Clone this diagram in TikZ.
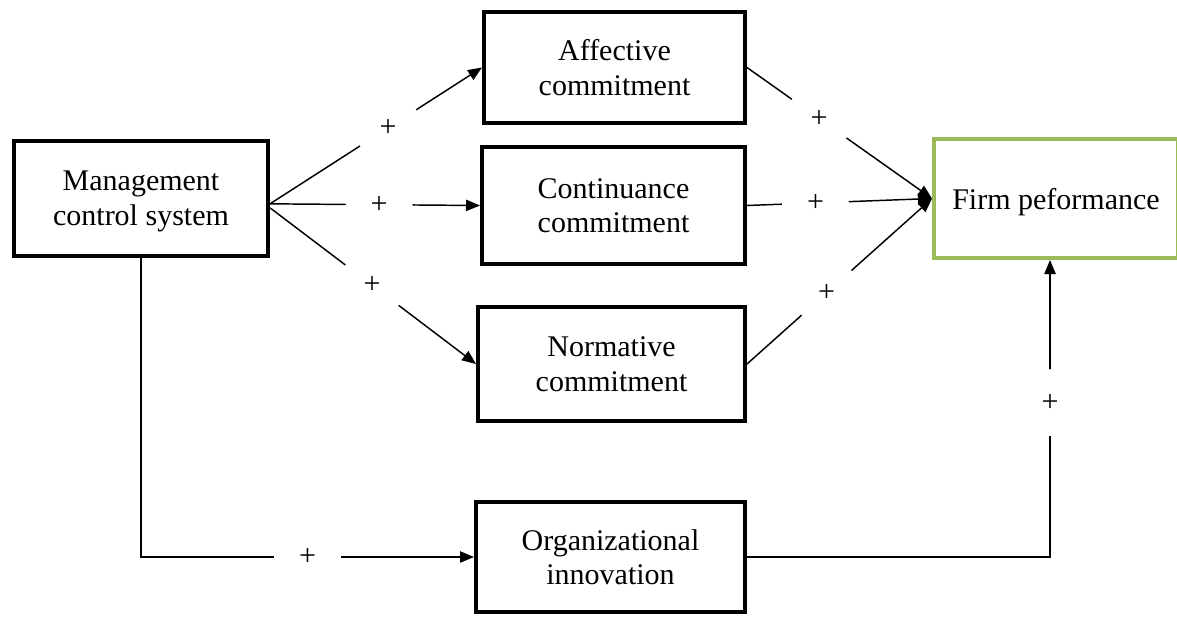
\documentclass[tikz,border=0pt]{standalone}
\usepackage{fontspec}
\setmainfont{Liberation Serif}
\usetikzlibrary{arrows.meta}
\definecolor{fpgreen}{HTML}{9BBB59}
\begin{document}
\begin{tikzpicture}[x=0.75pt,y=-0.75pt,
 box/.style={draw=black, line width=3pt, fill=white, align=center, font=\fontsize{22.5}{26}\selectfont, inner sep=0pt},
 lowtext/.style={text depth=0pt},
 conn/.style={line width=1.1pt, -{Triangle[length=10.5pt,width=8.5pt]}},
 plus/.style={circle, fill=white, minimum size=50pt, inner sep=0pt, font=\fontsize{22.5}{26}\selectfont}]
\clip (0,0) rectangle (1177,617);
\fill[white] (0,0) rectangle (1177,617);
\node[box, lowtext, minimum width=190.5pt, minimum height=86.25pt] (mcs) at (141,198.5) {Management\\control system};
\node[box, minimum width=195.75pt, minimum height=83.25pt] (aff) at (614.5,67.5) {Affective\\commitment};
\node[box, lowtext, minimum width=197.25pt, minimum height=87.75pt] (cont) at (613.5,205.5) {Continuance\\commitment};
\node[box, lowtext, minimum width=200.25pt, minimum height=85.5pt] (norm) at (611.5,364) {Normative\\commitment};
\node[box, lowtext, minimum width=201.75pt, minimum height=82.5pt] (org) at (610.5,557) {Organizational\\innovation};
\node[box, lowtext, draw=fpgreen, minimum width=183pt, minimum height=89.25pt] (firm) at (1056,198.5) {Firm peformance};

\draw[conn] ([yshift=-4pt]mcs.east) -- (aff.west) node[plus,pos=0.557]{+};
\draw[conn] ([yshift=-4pt]mcs.east) -- (cont.west) node[plus,pos=0.52]{+};
\draw[conn] ([yshift=-7pt]mcs.east) -- (norm.west) node[plus,pos=0.495]{+};
\draw[conn] (aff.east) -- (firm.west) node[plus,pos=0.39]{+};
\draw[conn] (cont.east) -- (firm.west) node[plus,pos=0.37]{+};
\draw[conn] (norm.east) -- (firm.west) node[plus,pos=0.43]{+};
\draw[conn] (mcs.south) |- (org.west) node[plus,pos=0.75]{+};
\draw[conn] (org.east) -| ([xshift=-4.5pt]firm.south) node[plus,pos=0.76]{+};
\end{tikzpicture}
\end{document}
